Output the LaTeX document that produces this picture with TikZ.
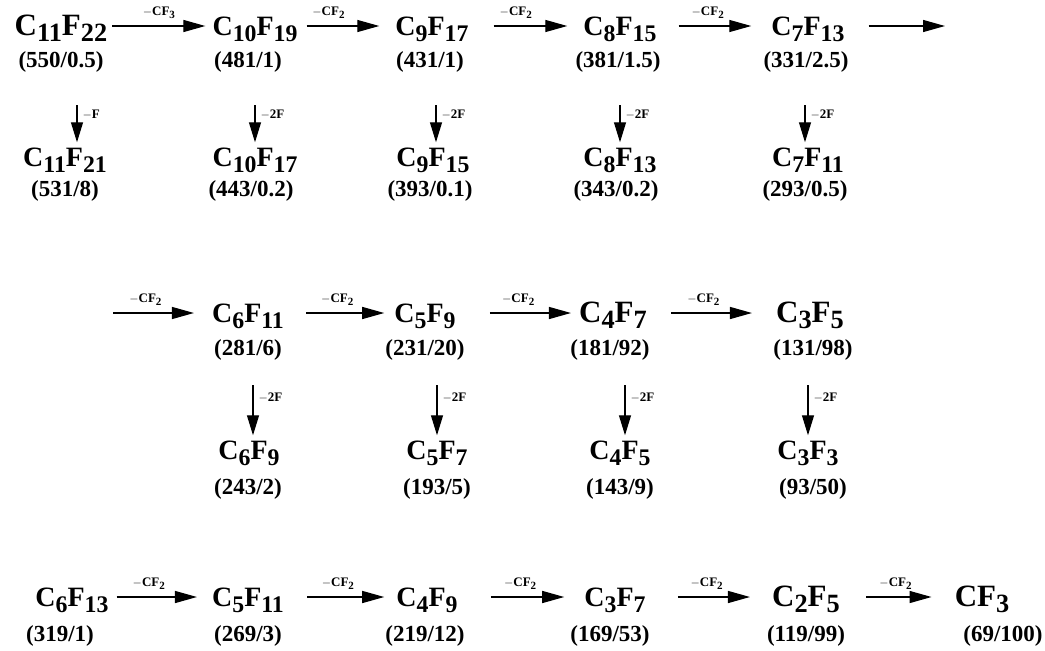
\documentclass[tikz,border=0pt]{standalone}
\usepackage{fontspec}
\setmainfont{Liberation Serif}
\usetikzlibrary{arrows.meta}
\newcommand\lo[1]{\raisebox{-0.22em}{\scalebox{0.85}{#1}}}
\begin{document}
\begin{tikzpicture}[x=1pt,y=-1pt,
  fm/.style={anchor=base,inner sep=0pt,font=\bfseries\fontsize{28}{30}\selectfont},
  fmb/.style={fm,font=\bfseries\fontsize{31}{34}\selectfont},
  lab/.style={anchor=base,inner sep=0pt,font=\bfseries\fontsize{23}{26}\selectfont},
  harr/.style={line width=1.3pt,-{Triangle[length=22pt,width=12pt]}},
  varr/.style={line width=1.3pt,-{Triangle[length=20pt,width=12pt]}},
  al/.style={font=\bfseries\fontsize{13}{15}\selectfont,inner sep=0pt,above=7pt},
  vl/.style={font=\bfseries\fontsize{13}{15}\selectfont,inner sep=0pt,anchor=west}]
\useasboundingbox (0,0) rectangle (1045,651);
% ---------- row 1
\node[fmb] (A1) at (61,35) {C\lo{11}F\lo{22}};
\node[fm]  (B1) at (255,35) {C\lo{10}F\lo{19}};
\node[fm]  (C1) at (432,35) {C\lo{9}F\lo{17}};
\node[fm]  (D1) at (620,35) {C\lo{8}F\lo{15}};
\node[fm]  (E1) at (808,35) {C\lo{7}F\lo{13}};
\coordinate (F1) at (945,26);
\node[lab] (A1l) at (61,67) {(550/0.5)};
\node[lab] (B1l) at (248,67) {(481/1)};
\node[lab] (C1l) at (430,67) {(431/1)};
\node[lab] (D1l) at (618,67) {(381/1.5)};
\node[lab] (E1l) at (806,67) {(331/2.5)};
\draw[harr] ([xshift=5pt,yshift=9pt]A1.base east) -- node[al,pos=0.5]{$-$CF\lo{3}} ([xshift=-7pt,yshift=9pt]B1.base west);
\draw[harr] ([xshift=9pt,yshift=9pt]B1.base east) -- node[al,pos=0.3]{$-$CF\lo{2}} ([xshift=-16pt,yshift=9pt]C1.base west);
\draw[harr] ([xshift=25pt,yshift=9pt]C1.base east) -- node[al,pos=0.3]{$-$CF\lo{2}} ([xshift=-16pt,yshift=9pt]D1.base west);
\draw[harr] ([xshift=22pt,yshift=9pt]D1.base east) -- node[al,pos=0.4]{$-$CF\lo{2}} ([xshift=-20pt,yshift=9pt]E1.base west);
\draw[harr] ([xshift=24pt,yshift=9pt]E1.base east) -- (F1);
% ---------- row 2
\node[fm] (A2) at (65,166) {C\lo{11}F\lo{21}};
\node[fm] (B2) at (255,166) {C\lo{10}F\lo{17}};
\node[fm] (C2) at (433,166) {C\lo{9}F\lo{15}};
\node[fm] (D2) at (620,166) {C\lo{8}F\lo{13}};
\node[fm] (E2) at (808,166) {C\lo{7}F\lo{11}};
\node[lab] (A2l) at (65,196) {(531/8)};
\node[lab] (B2l) at (251,196) {(443/0.2)};
\node[lab] (C2l) at (430,196) {(393/0.1)};
\node[lab] (D2l) at (616,196) {(343/0.2)};
\node[lab] (E2l) at (805,196) {(293/0.5)};
\foreach \n/\x/\t in {A/77/F,B/255/2F,C/436/2F,D/620/2F,E/805/2F}{
  \coordinate (\n x) at (\x,0);
  \draw[varr] ([yshift=-33pt]\n1l.south -| \n x) -- node[vl,pos=0.25,xshift=5pt]{$-$\t} ([yshift=5pt]\n2.north -| \n x);
}
% ---------- row 3
\coordinate (S3) at (113,313);
\node[fm]  (B3) at (248,322) {C\lo{6}F\lo{11}};
\node[fm]  (C3) at (425,322) {C\lo{5}F\lo{9}};
\node[fmb] (D3) at (613,322) {C\lo{4}F\lo{7}};
\node[fmb] (E3) at (810,322) {C\lo{3}F\lo{5}};
\node[lab] (B3l) at (248,355) {(281/6)};
\node[lab] (C3l) at (425,355) {(231/20)};
\node[lab] (D3l) at (610,355) {(181/92)};
\node[lab] (E3l) at (813,355) {(131/98)};
\draw[harr] (S3) -- node[al,pos=0.4]{$-$CF\lo{2}} ([xshift=-18pt,yshift=9pt]B3.base west);
\draw[harr] ([xshift=22pt,yshift=9pt]B3.base east) -- node[al,pos=0.4]{$-$CF\lo{2}} ([xshift=-10pt,yshift=9pt]C3.base west);
\draw[harr] ([xshift=34pt,yshift=9pt]C3.base east) -- node[al,pos=0.35]{$-$CF\lo{2}} ([xshift=-8pt,yshift=9pt]D3.base west);
\draw[harr] ([xshift=24pt,yshift=9pt]D3.base east) -- node[al,pos=0.4]{$-$CF\lo{2}} ([xshift=-24pt,yshift=9pt]E3.base west);
% ---------- row 4
\node[fm] (B4) at (249,459) {C\lo{6}F\lo{9}};
\node[fm] (C4) at (437,459) {C\lo{5}F\lo{7}};
\node[fm] (D4) at (620,459) {C\lo{4}F\lo{5}};
\node[fm] (E4) at (808,459) {C\lo{3}F\lo{3}};
\node[lab] (B4l) at (248,494) {(243/2)};
\node[lab] (C4l) at (437,494) {(193/5)};
\node[lab] (D4l) at (620,494) {(143/9)};
\node[lab] (E4l) at (813,494) {(93/50)};
\foreach \n/\x in {B/253,C/437,D/625,E/808}{
  \coordinate (\n y) at (\x,0);
  \draw[varr] ([yshift=-25pt]\n3l.south -| \n y) -- node[vl,pos=0.25,xshift=5pt]{$-$2F} ([yshift=5pt]\n4.north -| \n y);
}
% ---------- row 5
\node[fm]  (A5) at (72,606) {C\lo{6}F\lo{13}};
\node[fm]  (B5) at (248,606) {C\lo{5}F\lo{11}};
\node[fm]  (C5) at (427,606) {C\lo{4}F\lo{9}};
\node[fm]  (D5) at (615,606) {C\lo{3}F\lo{7}};
\node[fmb] (E5) at (806,606) {C\lo{2}F\lo{5}};
\node[fmb] (F5) at (982,606) {CF\lo{3}};
\node[lab] (A5l) at (60,641) {(319/1)};
\node[lab] (B5l) at (248,641) {(269/3)};
\node[lab] (C5l) at (425,641) {(219/12)};
\node[lab] (D5l) at (610,641) {(169/53)};
\node[lab] (E5l) at (806,641) {(119/99)};
\node[lab] (F5l) at (1003,641) {(69/100)};
\draw[harr] ([xshift=8pt,yshift=9pt]A5.base east) -- node[al,pos=0.4]{$-$CF\lo{2}} ([xshift=-15pt,yshift=9pt]B5.base west);
\draw[harr] ([xshift=23pt,yshift=9pt]B5.base east) -- node[al,pos=0.4]{$-$CF\lo{2}} ([xshift=-12pt,yshift=9pt]C5.base west);
\draw[harr] ([xshift=33pt,yshift=9pt]C5.base east) -- node[al,pos=0.4]{$-$CF\lo{2}} ([xshift=-20pt,yshift=9pt]D5.base west);
\draw[harr] ([xshift=32pt,yshift=9pt]D5.base east) -- node[al,pos=0.4]{$-$CF\lo{2}} ([xshift=-22pt,yshift=9pt]E5.base west);
\draw[harr] ([xshift=26pt,yshift=9pt]E5.base east) -- node[al,pos=0.45]{$-$CF\lo{2}} ([xshift=-23pt,yshift=9pt]F5.base west);
\end{tikzpicture}
\end{document}
